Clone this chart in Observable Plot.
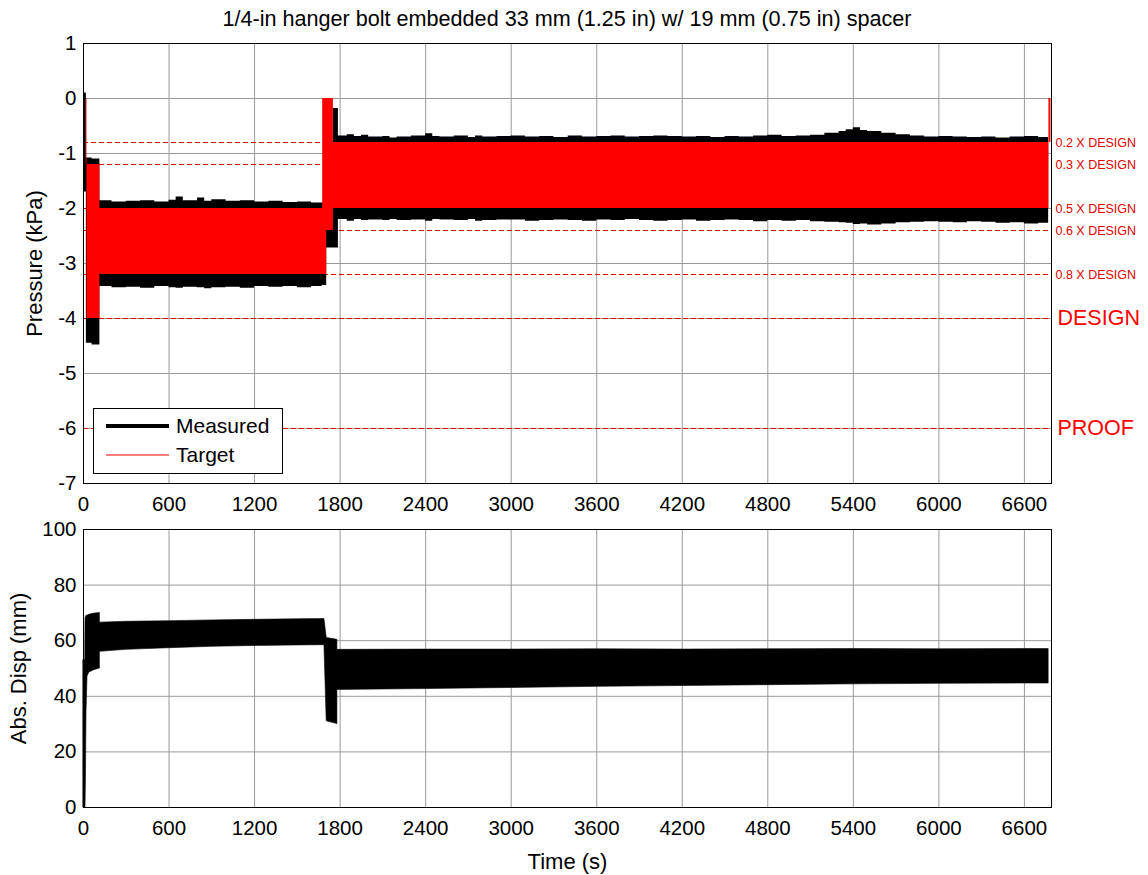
<!DOCTYPE html>
<html>
<head>
<meta charset="utf-8">
<script src="https://cdn.jsdelivr.net/npm/d3@7"></script>
<script src="https://cdn.jsdelivr.net/npm/@observablehq/plot@0.6"></script>
<style>
  html, body { margin: 0; padding: 0; background: #fff; }
  #wrap { position: relative; width: 1148px; height: 875px; font-family: "Liberation Sans", Arial, Helvetica, sans-serif; }
  #title { position: absolute; left: 83px; width: 968px; top: 6px; text-align: center; font-size: 21.6px; line-height: 26px; color: #000; }
  .panel { position: absolute; left: 0; }
  #legend { position: absolute; left: 93px; top: 408px; width: 188px; height: 64px; border: 1px solid #000; background: #fff; }
</style>
</head>
<body>
<div id="wrap">
  <div id="title"></div>
  <div id="top" class="panel" style="top:0px"></div>
  <div id="bottom" class="panel" style="top:510px"></div>
  <div id="legend"></div>
</div>
<script>
const titleText = "1/4-in hanger bolt embedded 33 mm (1.25 in) w/ 19 mm (0.75 in) spacer";
const xTicks = [0, 600, 1200, 1800, 2400, 3000, 3600, 4200, 4800, 5400, 6000, 6600];
const yTicksP = [-7, -6, -5, -4, -3, -2, -1, 0, 1];
const yTicksD = [0, 20, 40, 60, 80, 100];
const seriesNames = ["Measured", "Target"];

// Measured pressure envelope (kPa): time (s), upper, lower
const pTime  = [0, 20, 60, 115, 200, 300, 400, 500, 600, 650, 700, 800, 850, 900, 1000, 1100, 1200, 1300, 1400, 1500, 1600, 1674, 1706, 1753, 1788,
  1850, 1900, 1950, 2000, 2100, 2150, 2200, 2300, 2400, 2450, 2500, 2600, 2700, 2750, 2800, 2900, 3000, 3100, 3200, 3300, 3400, 3500, 3600, 3700, 3800, 3900, 4000,
  4100, 4200, 4300, 4400, 4500, 4600, 4700, 4800, 4900, 5000, 5100, 5200, 5300, 5350, 5400, 5450, 5500, 5600, 5700, 5800, 5900, 6000,
  6100, 6200, 6300, 6400, 6500, 6600, 6700, 6770];
const pUpper = [0.1, -1.08, -1.1, -1.86, -1.88, -1.87, -1.86, -1.88, -1.85, -1.79, -1.86, -1.81, -1.87, -1.84, -1.87, -1.86, -1.88, -1.87, -1.89, -1.88, -1.9, -1.9, -1.5, -0.18, -0.68,
  -0.66, -0.69, -0.67, -0.7, -0.69, -0.72, -0.7, -0.68, -0.64, -0.69, -0.7, -0.68, -0.71, -0.68, -0.7, -0.69, -0.68, -0.7, -0.69, -0.71, -0.68, -0.7, -0.69, -0.68, -0.7, -0.69, -0.68,
  -0.69, -0.7, -0.69, -0.71, -0.69, -0.7, -0.68, -0.67, -0.69, -0.68, -0.67, -0.63, -0.6, -0.57, -0.53, -0.58, -0.6, -0.63, -0.66, -0.68, -0.7, -0.69,
  -0.7, -0.71, -0.7, -0.72, -0.7, -0.69, -0.71, -0.71];
const pLower = [-1.7, -4.45, -4.48, -3.42, -3.44, -3.43, -3.45, -3.42, -3.44, -3.45, -3.43, -3.44, -3.46, -3.44, -3.43, -3.45, -3.42, -3.43, -3.42, -3.44, -3.42, -3.4, -2.72, -2.72, -2.2,
  -2.23, -2.2, -2.22, -2.21, -2.22, -2.2, -2.22, -2.21, -2.23, -2.2, -2.21, -2.22, -2.2, -2.23, -2.22, -2.21, -2.21, -2.23, -2.22, -2.21, -2.22, -2.23, -2.21, -2.22, -2.2, -2.22, -2.23,
  -2.22, -2.21, -2.23, -2.22, -2.21, -2.22, -2.24, -2.22, -2.23, -2.22, -2.24, -2.25, -2.26, -2.27, -2.29, -2.28, -2.3, -2.28, -2.26, -2.25, -2.24, -2.25,
  -2.26, -2.24, -2.25, -2.27, -2.26, -2.28, -2.27, -2.27];

// Target pressure envelope (kPa)
const tTime  = [19, 24, 115, 1678, 1706, 1753, 6772, 6786];
const tUpper = [0, -1.2, -2.0, 0, 0, -0.8, 0, 0];
const tLower = [-1.2, -4.0, -3.2, -3.2, -2.4, -2.0, -0.8, -0.8];

// Reference load levels (kPa) and labels
const levelValues = [-0.8, -1.2, -2.0, -2.4, -3.2, -4.0, -6.0];
const smallLabels = ["0.2 X DESIGN", "0.3 X DESIGN", "0.5 X DESIGN", "0.6 X DESIGN", "0.8 X DESIGN"];
const smallLevels = [-0.8, -1.2, -2.0, -2.4, -3.2];
const bigLabels = ["DESIGN", "PROOF"];
const bigLevels = [-4.0, -6.0];

// Absolute displacement envelope (mm)
const dTime  = [0, 12, 14, 17, 21, 28, 40, 70, 115, 115, 300, 600, 900, 1200, 1500, 1690, 1706, 1781, 1781, 2400, 3000, 3600, 4200, 4800, 5400, 6000, 6600, 6770];
const dUpper = [53, 53, 68, 68.5, 69, 69, 69.3, 69.7, 70, 66.5, 66.8, 67, 67.3, 67.5, 67.7, 67.8, 61, 60.3, 56.7, 56.8, 56.8, 56.9, 56.8, 56.9, 57, 56.9, 57, 57];
const dLower = [0, 0, 0, 10, 34, 47, 48.5, 49.3, 50, 56, 56.7, 57.3, 57.8, 58.1, 58.3, 58.4, 31, 30, 42.3, 42.6, 43, 43.4, 43.7, 44, 44.3, 44.5, 44.6, 44.6];

const xDomain = [0, 6790];
const font = "Liberation Sans, Arial, Helvetica, sans-serif";
const tickFont = 20.5;
const labelFont = 22;

const measured = pTime.map((t, i) => ({t, hi: pUpper[i], lo: pLower[i]}));
const target = tTime.map((t, i) => ({t, hi: tUpper[i], lo: tLower[i]}));
const disp = dTime.map((t, i) => ({t, hi: dUpper[i], lo: dLower[i]}));
const smallLab = smallLabels.map((s, i) => ({s, y: smallLevels[i], x: xDomain[1]}));
const bigLab = bigLabels.map((s, i) => ({s, y: bigLevels[i], x: xDomain[1]}));

document.getElementById("title").textContent = titleText;

const gridStyle = {stroke: "#999", strokeOpacity: 1, strokeWidth: 1};

const topPlot = Plot.plot({
  width: 1148, height: 515,
  marginTop: 43, marginBottom: 32, marginLeft: 83, marginRight: 97,
  style: {fontFamily: font, fontSize: "20px", color: "#000", background: "transparent", overflow: "visible"},
  x: {domain: xDomain},
  y: {domain: [-7, 1]},
  marks: [
    Plot.gridX(xTicks, gridStyle),
    Plot.gridY(yTicksP, gridStyle),
    Plot.axisX(xTicks, {tickSize: 0, tickPadding: 13, tickFormat: d => String(d), fontSize: tickFont, label: null}),
    Plot.axisY(yTicksP, {tickSize: 0, tickPadding: 7, tickFormat: d => String(d), fontSize: tickFont, label: null}),
    Plot.axisY({tickSize: 0, ticks: [], label: "Pressure (kPa)", labelAnchor: "center", labelArrow: "none", labelOffset: 57, fontSize: labelFont}),
    Plot.ruleY(levelValues, {stroke: "#e00000", strokeWidth: 1, strokeDasharray: "5,3"}),
    Plot.areaY(measured, {x: "t", y1: "hi", y2: "lo", fill: "#000", curve: "step-after"}),
    Plot.areaY(target, {x: "t", y1: "hi", y2: "lo", fill: "#ff0000", curve: "step-after"}),
    Plot.text(smallLab, {x: "x", y: "y", text: "s", dx: 4, textAnchor: "start", fill: "#e00000", fontSize: 12.5}),
    Plot.text(bigLab, {x: "x", y: "y", text: "s", dx: 6, textAnchor: "start", fill: "#ff0000", fontSize: 21.5}),
    Plot.frame({stroke: "#000", strokeWidth: 1})
  ]
});
document.getElementById("top").appendChild(topPlot);

const bottomPlot = Plot.plot({
  width: 1148, height: 365,
  marginTop: 19, marginBottom: 68, marginLeft: 83, marginRight: 97,
  style: {fontFamily: font, fontSize: "20px", color: "#000", background: "transparent", overflow: "visible"},
  x: {domain: xDomain},
  y: {domain: [0, 100]},
  marks: [
    Plot.gridX(xTicks, gridStyle),
    Plot.gridY(yTicksD, gridStyle),
    Plot.axisX(xTicks, {tickSize: 0, tickPadding: 13, tickFormat: d => String(d), fontSize: tickFont, label: null}),
    Plot.axisX({tickSize: 0, ticks: [], label: "Time (s)", labelAnchor: "center", labelArrow: "none", labelOffset: 61, fontSize: labelFont}),
    Plot.axisY(yTicksD, {tickSize: 0, tickPadding: 7, tickFormat: d => String(d), fontSize: tickFont, label: null}),
    Plot.axisY({tickSize: 0, ticks: [], label: "Abs. Disp (mm)", labelAnchor: "center", labelArrow: "none", labelOffset: 73, fontSize: labelFont}),
    Plot.areaY(disp, {x: "t", y1: "hi", y2: "lo", fill: "#000", stroke: "#000", strokeWidth: 0.6}),
    Plot.frame({stroke: "#000", strokeWidth: 1})
  ]
});
document.getElementById("bottom").appendChild(bottomPlot);

// Legend
const legendColors = ["#000", "#ff0000"];
const legendWidths = [4, 1];
const lg = d3.select("#legend").append("svg").attr("width", 188).attr("height", 64)
  .style("font-family", font);
seriesNames.forEach((name, i) => {
  const y = 17 + i * 29;
  lg.append("line").attr("x1", 12).attr("x2", 75).attr("y1", y).attr("y2", y)
    .attr("stroke", legendColors[i]).attr("stroke-width", legendWidths[i]);
  lg.append("text").attr("x", 82).attr("y", y).attr("dy", "0.35em")
    .attr("font-size", 21).attr("fill", "#000").text(name);
});
</script>
</body>
</html>
